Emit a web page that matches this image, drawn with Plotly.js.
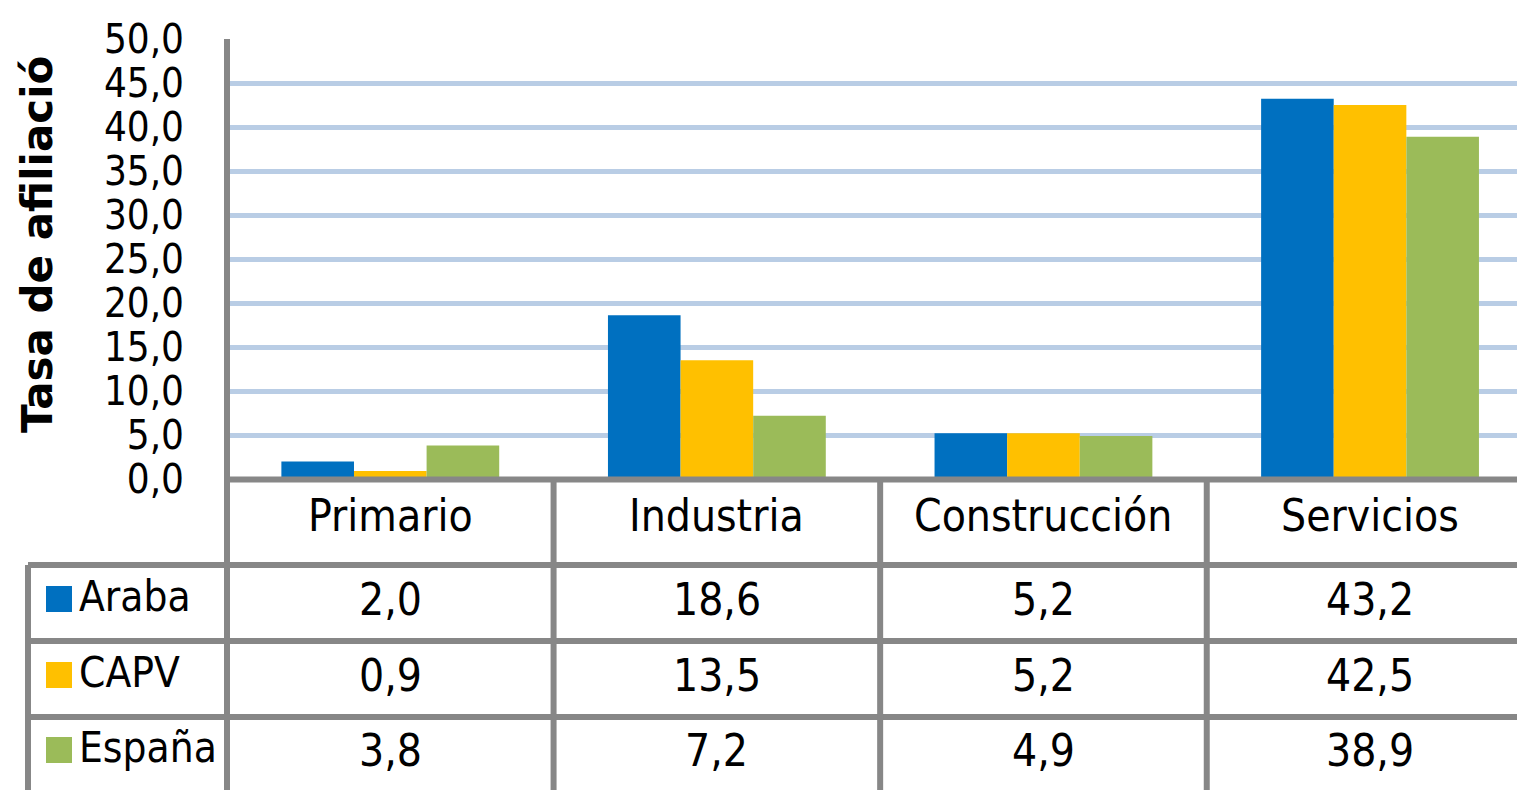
<!DOCTYPE html>
<html>
<head>
<meta charset="utf-8">
<script src="https://cdn.plot.ly/plotly-3.0.1.min.js"></script>
<style>
html,body{margin:0;padding:0;background:#fff;}
#chart{width:1517px;height:790px;}
</style>
</head>
<body>
<div id="chart"></div>
<script>
// ---- data ----
const categories = ["Primario", "Industria", "Construcción", "Servicios"];
const seriesNames = ["Araba", "CAPV", "España"];
const araba = [2.0, 18.6, 5.2, 43.2];
const capv = [0.9, 13.5, 5.2, 42.5];
const espana = [3.8, 7.2, 4.9, 38.9];
const yTitle = "Tasa de afiliació";

// ---- styling ----
const colors = ["#0070c0", "#ffc000", "#9bbb59"];
const gray = "#878787";
const FONT = "'DejaVu Sans Condensed', 'Liberation Sans Narrow', sans-serif";

const W = 1517, H = 790;
const plotL = 227, plotR = 1517, plotT = 39, plotB = 479;
const pw = plotR - plotL, ph = plotB - plotT;
const px = v => (v - plotL) / pw;
const py = v => (plotB - v) / ph;

const seriesVals = [araba, capv, espana];
const traces = seriesVals.map((vals, i) => ({
  type: "bar",
  name: seriesNames[i],
  x: categories,
  y: vals,
  marker: {color: colors[i], line: {width: 0}},
  hoverinfo: "x+y+name"
}));

const shapes = [];
const line = (x0, y0, x1, y1, xref, w) => shapes.push({
  type: "line", xref: xref || "paper", yref: "paper",
  x0: x0, y0: y0, x1: x1, y1: y1,
  line: {color: gray, width: w || 6}, layer: "above"
});

// left axis line (extends through the table)
line(px(227), py(39), px(227), py(790));
// top of data table (x axis line)
line(px(227), py(479.5), px(1517), py(479.5));
// row separators
[565, 641, 717].forEach(yy => line(px(28), py(yy), px(1517), py(yy)));
// legend column left border
line(px(28), py(565), px(28), py(790));
// category column separators
for (let i = 0; i < categories.length - 1; i++) {
  line(i + 0.5, py(479.5), i + 0.5, py(790), "x");
}

const annotations = [];
// category headers
categories.forEach((c, i) => annotations.push({
  xref: "x", yref: "paper", x: i, y: py(515), text: c, showarrow: false,
  font: {family: FONT, size: 44, color: "#000"}, xanchor: "center", yanchor: "middle"
}));
const rowY = [599, 675, 750];
seriesVals.forEach((vals, r) => {
  vals.forEach((v, i) => annotations.push({
    xref: "x", yref: "paper", x: i, y: py(rowY[r]),
    text: v.toFixed(1).replace(".", ","), showarrow: false,
    font: {family: FONT, size: 44, color: "#000"}, xanchor: "center", yanchor: "middle"
  }));
  annotations.push({
    xref: "paper", yref: "paper", x: px(77), y: py(rowY[r] - 3),
    text: seriesNames[r], showarrow: false,
    font: {family: FONT, size: 42, color: "#000"}, xanchor: "left", yanchor: "middle"
  });
  shapes.push({
    type: "rect", xref: "paper", yref: "paper",
    x0: px(46), x1: px(72), y0: py(rowY[r] + 13), y1: py(rowY[r] - 13),
    fillcolor: colors[r], line: {width: 0}, layer: "above"
  });
});
// y-axis title
annotations.push({
  xref: "paper", yref: "paper", x: px(38), y: py(245), text: yTitle,
  textangle: -90, showarrow: false,
  font: {family: "'DejaVu Sans', sans-serif", size: 42, color: "#000", weight: "bold"},
  xanchor: "center", yanchor: "middle"
});

const layout = {
  width: W, height: H,
  margin: {l: plotL, r: W - plotR, t: plotT, b: H - plotB, pad: 0},
  paper_bgcolor: "#fff", plot_bgcolor: "#fff",
  separators: ",.",
  barmode: "group",
  bargap: 0.333, bargroupgap: 0,
  showlegend: false,
  xaxis: {
    type: "category", range: [-0.5, 3.45],
    showticklabels: false, showgrid: false, zeroline: false, showline: false, ticks: ""
  },
  yaxis: {
    range: [0, 50], dtick: 5, tick0: 0, tickformat: ".1f",
    showgrid: true, gridcolor: "#b9cde5", gridwidth: 5,
    zeroline: false, showline: false, ticks: "",
    ticklabelstandoff: 42,
    tickfont: {family: FONT, size: 40, color: "#000"}
  },
  shapes: shapes,
  annotations: annotations
};

Plotly.newPlot("chart", traces, layout, {displayModeBar: false, staticPlot: true});
</script>
</body>
</html>
